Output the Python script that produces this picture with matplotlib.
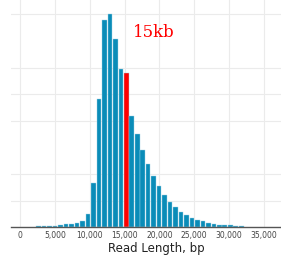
import numpy as np
import matplotlib
matplotlib.use("Agg")
import matplotlib.pyplot as plt

# histogram of read lengths (bin counts)
first_bin = 2295
bin_width = 785
counts = [38, 38, 49, 64, 86, 124, 124, 162, 237, 496,
          1677, 4823, 7793, 8019, 7068, 5962, 5801, 4184, 3508, 2906,
          2380, 1917, 1553, 1226, 962, 763, 586, 462, 365, 274,
          226, 177, 139, 102, 75, 75, 49, 49]
highlight_bin = 16
highlight_label = "15kb"
xticks = [0, 5000, 10000, 15000, 20000, 25000, 30000, 35000]
grid_y = [1000, 2000, 4000, 5000, 6000, 8000]

lefts = first_bin + bin_width * np.arange(len(counts))
colors = ["#0a8cb8"] * len(counts)
colors[highlight_bin] = "#ff0000"

fig = plt.figure(figsize=(2.81, 2.56), dpi=100)
ax = fig.add_axes([11 / 281, 28.7 / 256, 290 / 281, 227.3 / 256])

ax.bar(lefts + bin_width * 0.08, counts, width=bin_width * 0.84, align="edge",
       color=colors, edgecolor="#9fd3e6", linewidth=0.3, zorder=2)

ax.set_xlim(-1290, 40310)
ax.set_ylim(0, 8545)
ax.set_xticks(xticks)
ax.set_xticklabels([f"{t:,}" for t in xticks], fontsize=5.5, color="#444444")
ax.set_yticks(grid_y)
ax.set_yticklabels([])
ax.tick_params(length=0, pad=3)
ax.grid(True, color="#ebebeb", linewidth=0.8, zorder=0)
ax.axvline(40000, color="#ebebeb", linewidth=0.8, zorder=0)
ax.set_axisbelow(True)

for s in ["top", "right", "left"]:
    ax.spines[s].set_visible(False)
ax.spines["bottom"].set_color("#555555")
ax.spines["bottom"].set_linewidth(1.0)

ax.set_xlabel("Read Length, bp", fontsize=8.5, color="#222222", labelpad=1)

ax.text(16200, 7150, highlight_label, color="#ff0000", fontsize=12,
        family="DejaVu Serif")

fig.savefig("out.png", dpi=100)
